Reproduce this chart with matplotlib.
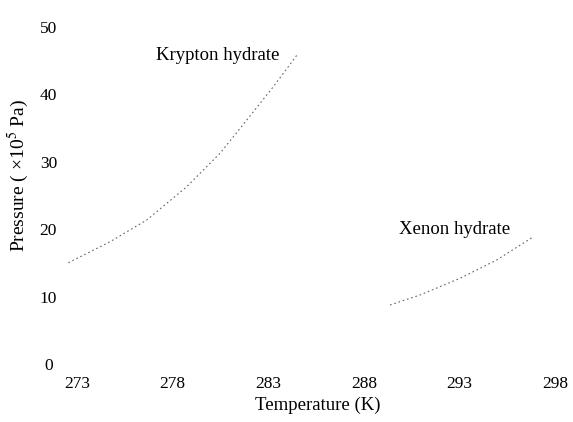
import matplotlib
matplotlib.use("Agg")
import matplotlib.pyplot as plt

plt.rcParams['font.family'] = ['Liberation Serif', 'DejaVu Serif']
plt.rcParams['mathtext.fontset'] = 'stix'

# Data
krypton_T = [272.55, 274.73, 276.65, 278.74, 280.48, 281.88, 283.27, 284.57]
krypton_P = [15.05, 18.16, 21.38, 26.31, 31.26, 36.19, 41.13, 46.07]
xenon_T = [289.37, 290.94, 293.03, 294.95, 296.87]
xenon_P = [8.79, 10.27, 12.74, 15.45, 18.90]
x_ticks = [273, 278, 283, 288, 293, 298]
y_ticks = [0, 10, 20, 30, 40, 50]

W, H = 573, 422
fig = plt.figure(figsize=(W / 100, H / 100), dpi=100)
left, right, bottom, top = 63.6, 564.6, 364.3, 13.3
ax = fig.add_axes([left / W, 1 - bottom / H, (right - left) / W, (bottom - top) / H])

ax.plot(krypton_T, krypton_P, color='#666666', lw=0.8, ls=(0, (1.5, 2.5)))
ax.plot(xenon_T, xenon_P, color='#666666', lw=0.8, ls=(0, (1.5, 2.5)))

ax.text(280.37, 45.8, 'Krypton hydrate', fontsize=13.5, ha='center', va='center')
ax.text(292.77, 19.9, 'Xenon hydrate', fontsize=13.5, ha='center', va='center')

ax.set_xlim(272.3, 298.5)
ax.set_ylim(0, 52)
ax.set_xticks(x_ticks)
ax.set_yticks(y_ticks)
ax.tick_params(axis='both', length=0, labelsize=12.5)
ax.tick_params(axis='x', pad=8.5)
ax.tick_params(axis='y', pad=11)
for lbl in ax.get_yticklabels():
    lbl.set_horizontalalignment('center')
for s in ax.spines.values():
    s.set_visible(False)

ax.set_xlabel('Temperature (K)', fontsize=13.5, va='center')
ax.xaxis.set_label_coords(0.508, -0.117)
ax.set_ylabel('Pressure ( ×10$^{5}$ Pa)', fontsize=14, va='center')
ax.yaxis.set_label_coords(-0.091, 0.539)

fig.savefig('out.png', dpi=100)
